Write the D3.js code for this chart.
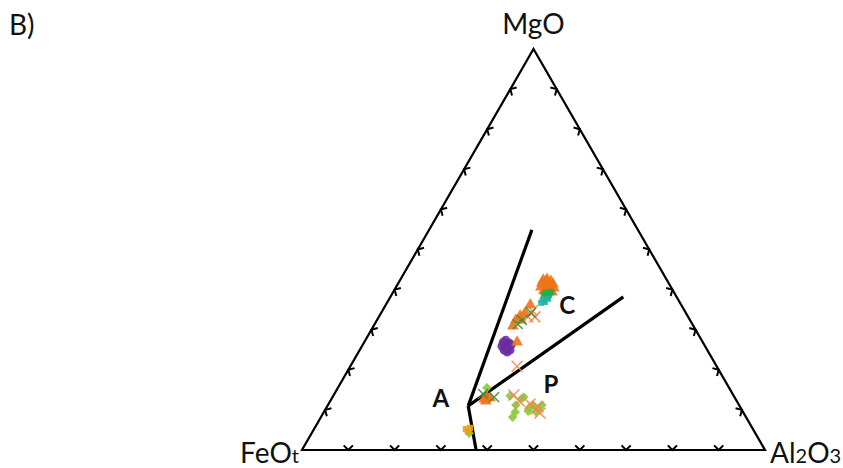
<!DOCTYPE html>
<html>
<head>
<meta charset="utf-8">
<script src="https://cdn.jsdelivr.net/npm/d3@7"></script>
<style>
  html, body { margin: 0; padding: 0; background: #fff; }
  svg { display: block; }
  text { font-family: Lato, "Open Sans", sans-serif; fill: #111; }
</style>
</head>
<body>
<svg id="chart" width="843" height="468"></svg>
<script>
// Ternary compositions, each point as [MgO, FeOt, Al2O3] in %
const orangeTriangles = [
  [42.4,26.7,30.9],[42.6,25.8,31.6],[42.1,25.2,32.7],[41.4,26.8,31.8],[41.1,26.1,32.8],
  [41.4,25.1,33.5],[40.6,28.1,31.3],[40.4,27.1,32.5],[40.1,26.4,33.5],[40.4,25.4,34.2],
  [39.7,27.9,32.4],[39.4,27.2,33.4],[39.4,26.3,34.3],[41.9,26.1,32.0],[41.6,27.4,31.0],
  [36.2,32.6,31.2],[34.2,34.7,31.1],[33.4,36.2,30.4],[32.4,37.6,30.0],[30.9,39.0,30.1],
  [26.9,40.1,33.0],[32.4,36.5,31.1],
  [12.7,54.3,33.0],[13.2,53.5,33.3],[13.0,52.9,34.1],[12.2,54.2,33.6]
];
const greenFilled = [
  [39.2,27.7,33.1],[38.7,27.3,34.0],[39.4,26.5,34.1],[38.2,28.0,33.8],[38.7,28.4,32.9]
];
const tealSquares = [
  [37.4,29.3,33.3],[36.9,29.1,34.0],[36.7,30.0,33.3],[37.7,28.0,34.3]
];
const darkGreenCrosses = [
  [32.4,36.3,31.3],[31.4,37.7,30.9],[34.2,33.4,32.4],[13.2,51.9,34.9],[14.0,53.9,32.1]
];
const orangeCrosses = [
  [34.7,32.9,32.4],[33.2,33.1,33.7],[33.2,34.6,32.2],[20.9,43.1,36.0],[13.7,47.4,38.9],
  [12.2,47.0,40.8],[11.5,45.0,43.5],[10.2,44.4,45.4],[9.2,44.0,46.8],[10.7,43.7,45.6]
];
const limeDiamonds = [
  [13.5,48.3,38.2],[12.7,46.3,41.0],[11.2,48.2,40.6],[9.5,49.2,41.3],[8.2,50.4,41.4],
  [10.5,45.7,43.8],[11.2,44.5,44.3],[10.2,43.9,45.9],[11.2,42.6,46.2],[9.5,44.7,45.8],
  [9.7,46.3,44.0],[15.5,52.3,32.2],[4.2,61.8,34.0],[13.2,45.5,41.3]
];
const goldSquares = [
  [5.2,62.0,32.8],[5.5,61.0,33.5],[4.7,61.8,33.5]
];
const purpleCircles = [
  [26.9,43.1,30.0],[27.4,42.3,30.3],[26.7,41.9,31.4],[25.9,43.2,30.9],[25.4,42.8,31.8],
  [26.2,41.7,32.1],[24.9,43.9,31.2],[24.4,43.5,32.1],[24.9,42.6,32.5],[25.9,43.9,30.2]
];

// Field boundaries (AFM diagram): junction and three line ends
const junction = [11.0, 58.6, 30.4];
const boundaryEnds = [
  [54.9, 22.9, 22.2],
  [0.0, 62.4, 37.6],
  [38.2, 11.5, 50.3]
];
const fieldLabels = [
  { text: "A", at: [13.2, 63.4, 23.4] },
  { text: "C", at: [36.2, 24.6, 39.2] },
  { text: "P", at: [16.7, 37.9, 45.4] }
];
const tickValues = [10, 20, 30, 40, 50, 60, 70, 80, 90];

// Triangle geometry
const left = 302, base = 450, side = 463;
const height = side * Math.sqrt(3) / 2;
const xs = d3.scaleLinear().domain([0, 100]).range([0, side]);
const ys = d3.scaleLinear().domain([0, 100]).range([base, base - height]);

function project(p) {
  const [mg, fe, al] = p;
  const t = mg + fe + al;
  const m = mg / t * 100, a = al / t * 100;
  return [left + xs(a) + xs(m) / 2, ys(m)];
}

const svg = d3.select("#chart");

const vFe = project([0, 100, 0]);
const vAl = project([0, 0, 100]);
const vMg = project([100, 0, 0]);

svg.append("path")
  .attr("d", d3.line()([vFe, vAl, vMg, vFe]) + "Z")
  .attr("fill", "none")
  .attr("stroke", "#000")
  .attr("stroke-width", 2.2)
  .attr("stroke-linejoin", "miter");

// Chevron ticks along each edge, opening into the triangle
const centroid = project([1, 1, 1]);
const edges = [
  [vFe, vAl],
  [vFe, vMg],
  [vMg, vAl]
];
const tickG = svg.append("g").attr("stroke", "#000").attr("stroke-width", 2).attr("fill", "none");
edges.forEach(([p0, p1]) => {
  tickValues.forEach(v => {
    const f = v / 100;
    const px = p0[0] + (p1[0] - p0[0]) * f;
    const py = p0[1] + (p1[1] - p0[1]) * f;
    let ex = p1[0] - p0[0], ey = p1[1] - p0[1];
    const len = Math.hypot(ex, ey); ex /= len; ey /= len;
    let nx = -ey, ny = ex;
    if ((centroid[0] - px) * nx + (centroid[1] - py) * ny < 0) { nx = -nx; ny = -ny; }
    const L = 6.5, c = Math.cos(Math.PI / 4), s = Math.sin(Math.PI / 4);
    const a1 = [px + L * (nx * c + ex * s), py + L * (ny * c + ey * s)];
    const a2 = [px + L * (nx * c - ex * s), py + L * (ny * c - ey * s)];
    tickG.append("path").attr("d", d3.line()([a1, [px, py], a2]));
  });
});

// Field boundary lines
const pj = project(junction);
svg.append("g").selectAll("line")
  .data(boundaryEnds)
  .join("line")
  .attr("x1", pj[0]).attr("y1", pj[1])
  .attr("x2", d => project(d)[0]).attr("y2", d => project(d)[1])
  .attr("stroke", "#000")
  .attr("stroke-width", 3.2);

// Data symbols
function drawSymbols(data, type, size, color, opts = {}) {
  const g = svg.append("g");
  g.selectAll("path")
    .data(data)
    .join("path")
    .attr("transform", d => `translate(${project(d)[0]},${project(d)[1]})${opts.rotate ? " rotate(" + opts.rotate + ")" : ""}`)
    .attr("d", d3.symbol().type(type).size(size))
    .attr("fill", opts.stroke ? "none" : color)
    .attr("stroke", opts.stroke ? color : "none")
    .attr("stroke-width", opts.stroke ? 1.5 : 0)
    .attr("opacity", opts.opacity || 0.9);
}

drawSymbols(limeDiamonds, d3.symbolSquare, 46, "#8cc83c", { rotate: 45 });
drawSymbols(orangeCrosses, d3.symbolX, 80, "#f08a50", { stroke: true });
drawSymbols(purpleCircles, d3.symbolCircle, 60, "#6a2ca0");
drawSymbols(orangeTriangles, d3.symbolTriangle, 60, "#f07318");
drawSymbols(greenFilled, d3.symbolSquare, 40, "#1fb04a");
drawSymbols(tealSquares, d3.symbolSquare, 36, "#20b2a6");
drawSymbols(darkGreenCrosses, d3.symbolX, 64, "#3c8f3c", { stroke: true });
drawSymbols(goldSquares, d3.symbolSquare, 40, "#e8a21a");

// Field letters
svg.append("g").selectAll("text")
  .data(fieldLabels)
  .join("text")
  .attr("x", d => project(d.at)[0])
  .attr("y", d => project(d.at)[1])
  .attr("text-anchor", "middle")
  .attr("dominant-baseline", "central")
  .attr("font-weight", "bold")
  .attr("font-size", 24)
  .text(d => d.text);

// Apex labels
svg.append("text")
  .attr("x", vMg[0]).attr("y", 34)
  .attr("text-anchor", "middle")
  .attr("font-size", 28)
  .text("MgO");

const feLabel = svg.append("text")
  .attr("x", 299).attr("y", 463)
  .attr("text-anchor", "end")
  .attr("font-size", 28);
feLabel.append("tspan").text("FeO");
feLabel.append("tspan").attr("font-size", 20).text("t");

const alLabel = svg.append("text")
  .attr("x", 770).attr("y", 463)
  .attr("font-size", 28);
alLabel.append("tspan").text("Al");
alLabel.append("tspan").attr("font-size", 20).text("2");
alLabel.append("tspan").text("O");
alLabel.append("tspan").attr("font-size", 20).text("3");

svg.append("text")
  .attr("x", 9).attr("y", 35)
  .attr("font-size", 28)
  .text("B)");
</script>
</body>
</html>
